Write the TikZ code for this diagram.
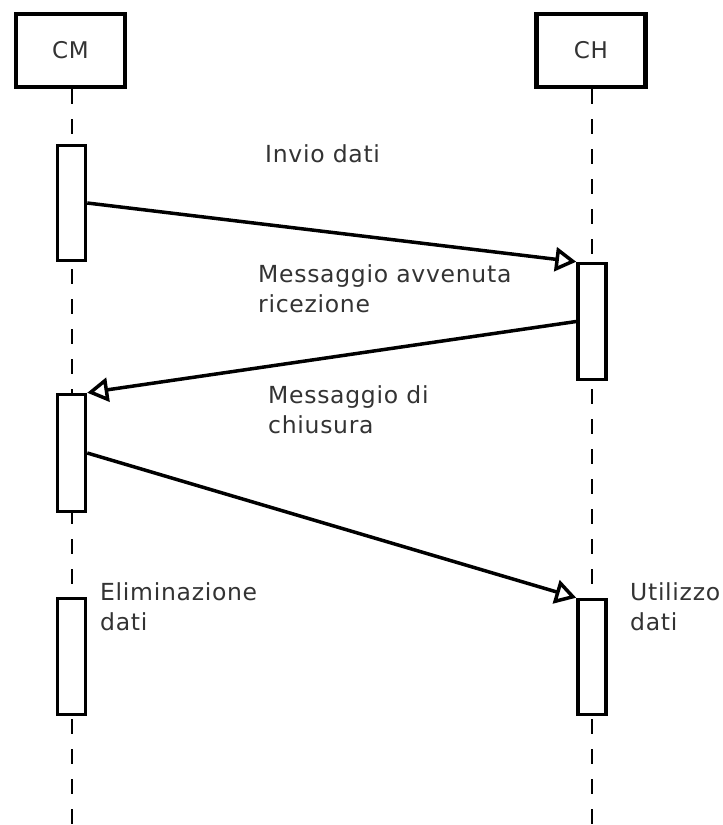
\documentclass[tikz,border=0pt]{standalone}
\usepackage{fontspec}
\setmainfont[LetterSpace=3]{DejaVu Sans}
\usetikzlibrary{arrows.meta}
\definecolor{labelgray}{HTML}{333333}
\tikzset{
  lifebox/.style={draw, line width=4.5pt, fill=white, minimum width=109pt, minimum height=73pt, inner sep=0pt,
    font=\fontsize{23}{30}\selectfont, text=labelgray},
  actbar/.style={draw, line width=3.5pt, fill=white, minimum width=28pt, inner sep=0pt},
  lifeline/.style={line width=2pt, dash pattern=on 15pt off 15pt},
  msg/.style={line width=3.5pt, -{Triangle[open, length=21pt, width=24pt, line width=3.5pt]}},
  lbl/.style={anchor=base west, inner sep=0pt, align=left, text=labelgray,
    font=\fontsize{23.5}{30}\selectfont},
}
\begin{document}
\begin{tikzpicture}[x=1pt, y=-1pt]
  \useasboundingbox (0,0) rectangle (723,825);

  % participants
  \node[lifebox] (cm) at (70.5,50.5) {CM};
  \node[lifebox] (ch) at (591,50.5) {CH};
  \coordinate (cmend) at (71.5,825);
  \coordinate (chend) at (592,825);
  \draw[lifeline] (cm.south -| cmend) -- (cmend);
  \draw[lifeline] (ch.south -| chend) -- (chend);

  % activation bars
  \node[actbar, minimum height=115pt] (cm1) at (71.5,203) {};
  \node[actbar, minimum height=116pt] (ch1) at (592,321.5) {};
  \node[actbar, minimum height=117pt] (cm2) at (71.5,453) {};
  \node[actbar, minimum height=115pt] (ch2) at (592,657) {};
  \node[actbar, minimum height=116pt] (cm3) at (71.5,656.5) {};

  % messages
  \draw[msg] (cm1.east) -- (ch1.north west);
  \draw[msg] (ch1.west) -- (cm2.north east);
  \draw[msg] (cm2.east) -- (ch2.north west);

  % labels
  \node[lbl] (l1) at (265,162) {Invio dati};
  \node[lbl] (l2) at (258,312) {Messaggio avvenuta\\ricezione};
  \node[lbl] (l3) at (268,433) {Messaggio di\\chiusura};
  \node[lbl] (l4) at (100,630) {Eliminazione\\dati};
  \node[lbl] (l5) at (630,630) {Utilizzo\\dati};
\end{tikzpicture}
\end{document}
